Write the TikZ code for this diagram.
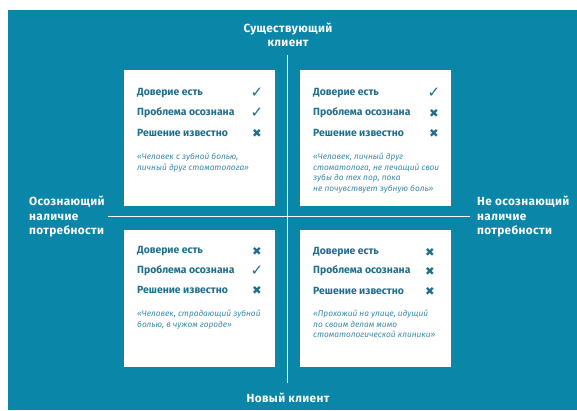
\documentclass[tikz,border=0pt]{standalone}
\usepackage{fontspec}
\setmainfont{Fira Sans}
\newfontfamily\labfont[LetterSpace=3]{Fira Sans}
\newfontfamily\symfont{DejaVu Sans}
\definecolor{bg}{HTML}{0A86A8}
\definecolor{ink}{HTML}{1E6E8C}
\definecolor{qink}{HTML}{3D8AA5}
\begin{document}
\begin{tikzpicture}[x=1pt,y=-1pt,
  quad/.style={fill=white,draw=none,minimum width=151pt,minimum height=136pt,anchor=north west,inner sep=0pt},
  rowtext/.style={anchor=west,inner sep=0pt,text=ink,font=\fontsize{10.4}{12}\selectfont\bfseries},
  okmark/.style={inner sep=0pt,text=ink,font=\symfont\fontsize{15}{15}\selectfont},
  nomark/.style={inner sep=0pt,text=ink,font=\symfont\fontsize{11.5}{11.5}\selectfont},
  quote/.style={anchor=north west,inner sep=0pt,align=left,text=qink,font=\fontsize{8.3}{10.6}\selectfont\itshape},
  axlabel/.style={inner sep=0pt,text=white,font=\labfont\fontsize{11.8}{14.5}\selectfont\bfseries},
  axis/.style={draw=white,line width=0.8pt}]
\useasboundingbox (0,0) rectangle (577,410);
\fill[bg] (8,10) rectangle (577,410);
% axes
\coordinate (vtop) at (287,55);
\coordinate (vbot) at (287,383);
\coordinate (hl) at (108,216);
\coordinate (hr) at (470,216);
\draw[axis] (vtop) -- (vbot);
\draw[axis] (hl) -- (hr);
% axis labels
\node[axlabel,align=center] (lt) at (288,35) {Существующий\\клиент};
\node[axlabel] (lb) at (288,398) {Новый клиент};
\node[axlabel,align=left,anchor=west] (ll) at (29,217) {Осознающий\\наличие\\потребности};
\node[axlabel,align=left,anchor=west] (lr) at (477,217) {Не осознающий\\наличие\\потребности};
% quadrants
\node[quad] (q1) at (124,70) {};
\node[quad] (q2) at (300,70) {};
\node[quad,minimum height=137pt] (q3) at (124,230) {};
\node[quad,minimum height=137pt] (q4) at (300,230) {};
% top-left
\node[rowtext] (a1) at (137,93) {Доверие есть};
\node[rowtext] (a2) at (137,113) {Проблема осознана};
\node[rowtext] (a3) at (137,133) {Решение известно};
\node[okmark] (am1) at (257,93) {✓};
\node[okmark] (am2) at (257,113) {✓};
\node[nomark] (am3) at (257,133) {✖};
\node[quote] (aq) at (137,153) {«Человек с зубной болью,\\личный друг стоматолога»};
% top-right
\node[rowtext] (b1) at (313,93) {Доверие есть};
\node[rowtext] (b2) at (313,113) {Проблема осознана};
\node[rowtext] (b3) at (313,133) {Решение известно};
\node[okmark] (bm1) at (434,93) {✓};
\node[nomark] (bm2) at (434,113) {✖};
\node[nomark] (bm3) at (434,133) {✖};
\node[quote] (bq) at (313,153) {«Человек, личный друг\\стоматолога, не лечащий свои\\зубы до тех пор, пока\\не почувствует зубную боль»};
% bottom-left
\node[rowtext] (c1) at (137,251) {Доверие есть};
\node[rowtext] (c2) at (137,271) {Проблема осознана};
\node[rowtext] (c3) at (137,290) {Решение известно};
\node[nomark] (cm1) at (257,251) {✖};
\node[okmark] (cm2) at (257,271) {✓};
\node[nomark] (cm3) at (257,290) {✖};
\node[quote] (cq) at (137,310) {«Человек, страдающий зубной\\болью, в чужом городе»};
% bottom-right
\node[rowtext] (d1) at (313,252) {Доверие есть};
\node[rowtext] (d2) at (313,271) {Проблема осознана};
\node[rowtext] (d3) at (313,291) {Решение известно};
\node[nomark] (dm1) at (430,252) {✖};
\node[nomark] (dm2) at (430,271) {✖};
\node[nomark] (dm3) at (430,291) {✖};
\node[quote] (dq) at (313,310) {«Прохожий на улице, идущий\\по своим делам мимо\\стоматологической клиники»};
\end{tikzpicture}
\end{document}
